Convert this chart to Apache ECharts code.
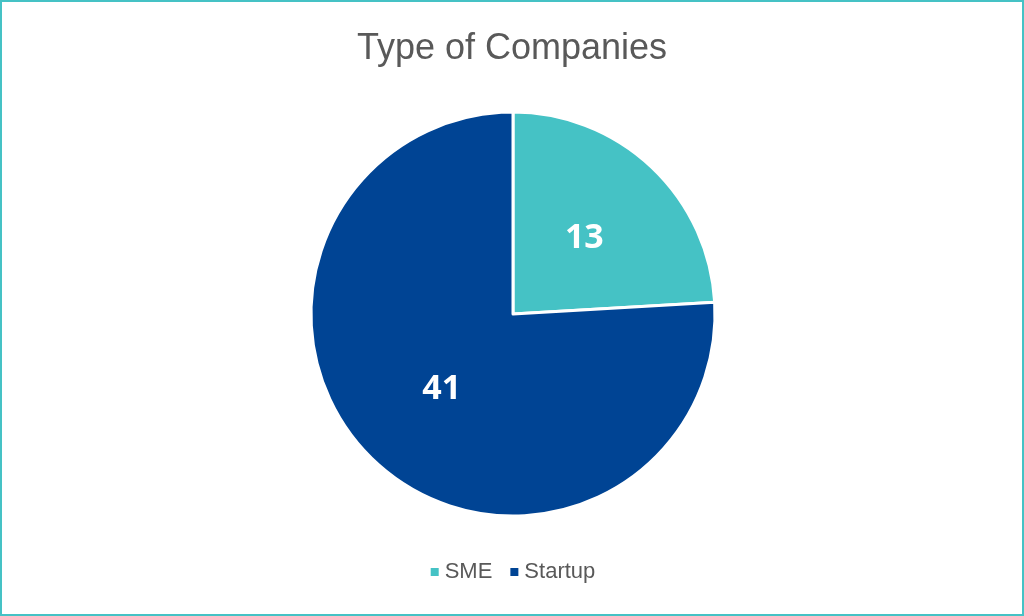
<!DOCTYPE html>
<html><head><meta charset="utf-8">
<script src="https://cdn.jsdelivr.net/npm/echarts@6/dist/echarts.min.js"></script>
<style>html,body{margin:0;padding:0;background:#fff}#c{width:1024px;height:616px;box-sizing:border-box;border:2px solid #45C2C5}</style>
</head><body><div id="c"></div>
<script>
const categories = ['SME', 'Startup'];
const values = [13, 41];
const colors = ['#45C2C5', '#004494'];
const chart = echarts.init(document.getElementById('c'));
chart.setOption({
  animation: false,
  title: { text: 'Type of Companies', left: 'center', top: 24,
    textStyle: { fontFamily: 'Liberation Sans, Arial', fontSize: 36, fontWeight: 'normal', color: '#595959' } },
  legend: { bottom: 26, left: 'center', icon: 'rect', itemWidth: 10, itemHeight: 10, itemGap: 16,
    textStyle: { fontFamily: 'Liberation Sans, Arial', fontSize: 22, color: '#595959' }, data: categories },
  series: [{
    type: 'pie', center: [511, 312], radius: 202, startAngle: 90, clockwise: true,
    itemStyle: { borderColor: '#fff', borderWidth: 3 },
    label: { position: 'inner', formatter: '{c}', color: '#fff', fontSize: 34, fontWeight: 'bold',
      fontFamily: 'Open Sans, Liberation Sans' },
    labelLine: { show: false },
    data: categories.map((n, i) => ({ name: n, value: values[i], itemStyle: { color: colors[i] } }))
  }]
});
</script></body></html>
